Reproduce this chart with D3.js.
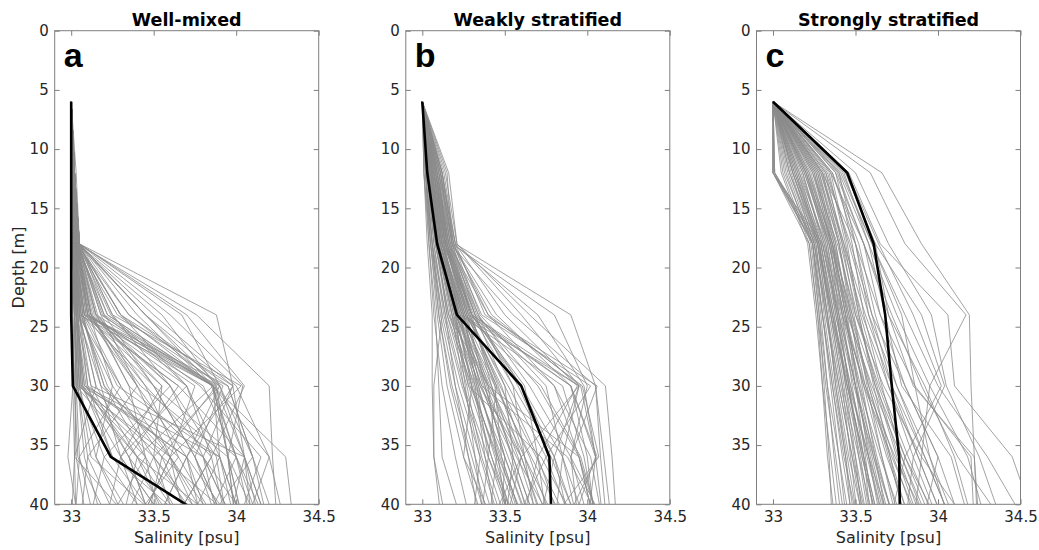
<!DOCTYPE html>
<html>
<head>
<meta charset="utf-8">
<script src="https://cdn.jsdelivr.net/npm/d3@7"></script>
<style>
  body { margin: 0; background: #fff; }
  text { font-family: "DejaVu Sans", sans-serif; }
</style>
</head>
<body>
<svg id="chart" width="1039" height="550"></svg>
<script>
// Sampling depths (m) shared by every salinity profile
const depths = [6, 12, 18, 24, 30, 36, 42];

const panelTitles = ["Well-mixed", "Weakly stratified", "Strongly stratified"];
const panelLetters = ["a", "b", "c"];
const salinityTicks = [33, 33.5, 34, 34.5];
const depthTicks = [0, 5, 10, 15, 20, 25, 30, 35, 40];

// Mean profiles (psu) at the sampling depths
const meanWellMixed = [33.00, 33.00, 33.00, 33.00, 33.01, 33.24, 33.92];
const meanWeak      = [33.00, 33.03, 33.09, 33.21, 33.60, 33.77, 33.785];
const meanStrong    = [33.00, 33.45, 33.61, 33.68, 33.72, 33.765, 33.77];

// Individual profiles, well-mixed regime
const profilesWellMixed = [
  [33.00,33.02,33.05,33.88,33.98,34.05,34.10],
  [33.00,33.02,33.04,33.76,34.20,34.22,34.25],
  [33.00,33.03,33.05,33.67,33.90,34.10,34.20],
  [33.00,33.02,33.04,33.55,33.88,33.95,34.05],
  [33.00,33.01,33.04,33.45,33.86,33.90,34.00],
  [33.00,33.02,33.05,33.40,33.85,34.00,34.15],
  [33.00,33.02,33.03,33.35,33.90,33.70,33.80],
  [33.00,33.01,33.04,33.30,33.70,33.85,33.95],
  [33.00,33.02,33.05,33.25,33.60,33.80,34.00],
  [33.00,33.02,33.05,33.22,33.87,34.05,34.20],
  [33.00,33.01,33.04,33.20,33.50,33.75,33.95],
  [33.00,33.02,33.04,33.18,33.40,33.60,33.85],
  [33.00,33.01,33.03,33.15,33.86,33.95,34.05],
  [33.00,33.02,33.05,33.60,34.04,33.95,34.00],
  [33.00,33.02,33.04,33.50,34.00,34.20,34.30],
  [33.00,33.01,33.05,33.45,33.98,33.80,33.90],
  [33.00,33.02,33.04,33.30,33.98,33.70,33.50],
  [33.00,33.01,33.03,33.10,33.86,34.30,34.35],
  [33.00,33.02,33.05,33.70,34.05,33.85,33.60],
  [33.00,33.01,33.03,33.05,33.86,33.95,34.00],
  [33.00,33.01,33.02,33.08,33.90,34.05,34.15],
  [33.00,33.02,33.04,33.10,33.70,33.90,34.05],
  [33.00,33.01,33.03,33.12,33.60,33.88,33.95],
  [33.00,33.00,33.02,33.06,33.50,33.75,33.90],
  [33.00,33.01,33.03,33.09,33.40,33.70,33.85],
  [33.00,33.01,33.02,33.04,33.30,33.60,33.80],
  [33.00,33.02,33.03,33.11,33.25,33.55,33.75],
  [33.00,33.01,33.02,33.07,33.20,33.45,33.70],
  [33.00,33.01,33.03,33.05,33.15,33.40,33.60],
  [33.00,33.00,33.02,33.03,33.12,33.35,33.50],
  [33.00,33.01,33.03,33.13,33.35,33.80,34.00],
  [33.00,33.02,33.04,33.15,33.45,33.65,33.90],
  [33.00,33.01,33.02,33.08,33.55,33.50,33.65],
  [33.00,33.01,33.03,33.10,33.80,34.00,34.10],
  [33.00,33.01,33.02,33.06,33.65,34.05,34.20],
  [33.00,33.02,33.04,33.12,33.75,33.60,33.70],
  [33.00,33.01,33.03,33.09,33.95,34.10,34.25],
  [33.00,33.00,33.02,33.04,33.18,33.30,33.45],
  [33.00,33.01,33.02,33.06,33.22,33.50,33.80],
  [33.00,33.01,33.03,33.07,33.28,33.90,34.05],
  [33.00,33.01,33.02,33.05,33.10,33.25,33.55],
  [33.00,33.00,33.01,33.02,33.04,33.60,33.90],
  [33.00,33.01,33.02,33.03,33.05,33.50,33.85],
  [33.00,33.00,33.01,33.02,33.03,33.40,33.70],
  [33.00,33.01,33.02,33.04,33.06,33.30,33.60],
  [33.00,33.00,33.01,33.02,33.03,33.20,33.50],
  [33.00,33.01,33.02,33.03,33.05,33.15,33.40],
  [33.00,33.00,33.01,33.02,33.04,33.10,33.30],
  [33.00,33.01,33.02,33.03,33.08,33.70,34.00],
  [33.00,33.00,33.01,33.03,33.06,33.80,34.10],
  [33.00,33.01,33.02,33.04,33.07,33.25,33.75],
  [33.00,33.00,33.01,33.02,33.04,33.08,33.20],
  [33.00,33.01,33.02,33.03,33.05,33.45,33.55],
  [33.00,33.00,33.01,33.02,33.03,33.05,33.15],
  [33.00,33.01,33.02,33.03,33.09,33.35,33.65],
  [33.00,33.00,33.01,33.02,33.01,32.98,33.05],
  [33.00,33.00,33.00,33.01,33.02,33.03,33.10],
  [33.00,33.00,33.00,33.00,33.01,33.02,33.03],
  [33.00,33.00,33.01,33.01,33.02,33.04,33.25],
  [33.00,33.02,33.04,33.20,33.86,33.40,33.30],
  [33.00,33.01,33.03,33.22,33.88,33.55,33.45],
  [33.00,33.02,33.05,33.25,34.03,33.60,33.40],
  [33.00,33.01,33.04,33.18,33.86,34.00,33.80],
  [33.00,33.02,33.03,33.28,33.92,33.75,33.95],
  [33.00,33.01,33.04,33.15,33.60,33.20,33.10],
  [33.00,33.02,33.05,33.30,33.86,34.20,34.05],
  [33.00,33.01,33.03,33.12,33.40,33.10,33.05],
  [33.00,33.02,33.04,33.24,33.70,33.30,33.60],
  [33.00,33.01,33.02,33.08,33.30,33.05,33.02],
  [33.00,33.00,33.02,33.05,33.15,33.02,33.00],
  [33.00,33.01,33.03,33.06,33.20,33.60,33.40],
  [33.00,33.01,33.02,33.04,33.10,33.70,33.50],
  [33.00,33.00,33.01,33.03,33.08,33.90,33.70],
  [33.00,33.01,33.02,33.05,33.12,34.05,33.95],
  [33.00,33.02,33.04,33.16,33.50,34.00,34.20],
  [33.00,33.01,33.03,33.10,33.45,33.85,33.60],
  [33.00,33.02,33.05,33.35,33.95,34.10,33.80],
  [33.00,33.01,33.03,33.14,33.55,33.30,33.20],
  [33.00,33.00,33.02,33.05,33.25,33.15,33.35],
  [33.00,33.01,33.02,33.04,33.06,33.55,34.05],
  [33.00,33.00,33.01,33.02,33.05,33.12,33.60],
  [33.00,33.01,33.02,33.03,33.07,33.40,33.95],
  [33.00,33.00,33.01,33.02,33.03,33.02,33.40],
  [33.00,33.02,33.05,33.45,33.90,33.50,33.30],
  [33.00,33.01,33.04,33.12,33.35,33.45,33.20],
  [33.00,33.02,33.03,33.08,33.65,33.35,33.50],
  [33.00,33.01,33.03,33.11,33.42,33.95,34.15],
  [33.00,33.02,33.04,33.19,33.78,34.15,34.00],
  [33.00,33.01,33.02,33.07,33.18,33.65,33.35]
];

// Individual profiles, weakly stratified regime
const profilesWeak = [
  [33.00,33.12,33.20,33.90,34.05,34.10,34.15],
  [33.00,33.15,33.18,33.80,34.00,33.90,33.95],
  [33.00,33.10,33.19,33.70,33.98,34.05,34.10],
  [33.00,33.14,33.21,33.60,33.95,33.85,33.80],
  [33.00,33.11,33.17,33.55,34.05,34.08,34.12],
  [33.00,33.13,33.20,33.50,33.94,33.70,33.60],
  [33.00,33.12,33.18,33.45,33.90,34.00,34.05],
  [33.00,33.09,33.16,33.40,33.80,33.95,34.05],
  [33.00,33.12,33.19,33.35,33.75,33.85,33.95],
  [33.00,33.10,33.15,33.30,33.60,33.80,33.90],
  [33.00,33.16,33.21,33.65,34.11,34.15,34.18],
  [33.00,33.11,33.18,33.42,33.96,34.05,33.90],
  [33.00,33.05,33.10,33.20,33.40,33.60,33.75],
  [33.00,33.06,33.12,33.25,33.45,33.65,33.80],
  [33.00,33.04,33.09,33.18,33.35,33.55,33.70],
  [33.00,33.07,33.13,33.28,33.50,33.70,33.85],
  [33.00,33.03,33.08,33.15,33.30,33.45,33.60],
  [33.00,33.08,33.14,33.30,33.55,33.80,33.95],
  [33.00,33.05,33.11,33.22,33.38,33.50,33.65],
  [33.00,33.09,33.15,33.32,33.60,33.85,34.00],
  [33.00,33.06,33.12,33.24,33.42,33.58,33.72],
  [33.00,33.04,33.10,33.19,33.33,33.48,33.62],
  [33.00,33.07,33.14,33.27,33.48,33.62,33.78],
  [33.00,33.03,33.07,33.14,33.25,33.40,33.55],
  [33.00,33.05,33.10,33.21,33.36,33.52,33.68],
  [33.00,33.08,33.16,33.34,33.65,33.90,34.02],
  [33.00,33.06,33.11,33.23,33.44,33.66,33.88],
  [33.00,33.04,33.09,33.17,33.28,33.42,33.58],
  [33.00,33.10,33.17,33.33,33.70,33.95,34.08],
  [33.00,33.05,33.12,33.26,33.52,33.75,33.92],
  [33.00,33.03,33.08,33.16,33.32,33.50,33.66],
  [33.00,33.07,33.13,33.29,33.46,33.60,33.74],
  [33.00,33.02,33.06,33.12,33.22,33.35,33.48],
  [33.00,33.06,33.12,33.25,33.39,33.55,33.70],
  [33.00,33.04,33.10,33.20,33.31,33.44,33.56],
  [33.00,33.08,33.15,33.31,33.58,33.78,33.96],
  [33.00,33.05,33.11,33.22,33.41,33.62,33.83],
  [33.00,33.02,33.05,33.10,33.18,33.30,33.42],
  [33.00,33.09,33.16,33.30,33.62,33.70,33.76],
  [33.00,33.06,33.13,33.24,33.37,33.57,33.81],
  [33.00,33.03,33.07,33.13,33.24,33.38,33.52],
  [33.00,33.07,33.14,33.27,33.47,33.69,33.90],
  [33.00,33.04,33.09,33.18,33.29,33.46,33.64],
  [33.00,33.05,33.10,33.21,33.34,33.47,33.61],
  [33.00,33.11,33.18,33.32,33.80,34.02,34.10],
  [33.00,33.08,33.15,33.28,33.90,34.05,34.00],
  [33.00,33.06,33.12,33.23,33.85,33.98,34.06],
  [33.00,33.09,33.17,33.30,33.95,33.80,33.70],
  [33.00,33.07,33.14,33.26,33.72,33.96,34.08],
  [33.00,33.01,33.03,33.06,33.06,33.07,33.15],
  [33.00,33.02,33.04,33.08,33.10,33.12,33.25],
  [33.00,33.01,33.04,33.07,33.12,33.20,33.30],
  [33.00,33.02,33.05,33.09,33.15,33.25,33.38],
  [33.00,33.03,33.06,33.11,33.20,33.32,33.45],
  [33.00,33.02,33.06,33.10,33.17,33.28,33.40],
  [33.00,33.01,33.05,33.12,33.07,33.07,33.12],
  [33.00,33.04,33.09,33.20,33.30,33.25,33.45],
  [33.00,33.06,33.12,33.25,33.35,33.60,33.50],
  [33.00,33.08,33.15,33.28,33.45,33.40,33.35],
  [33.00,33.05,33.11,33.24,33.95,33.60,33.40],
  [33.00,33.09,33.17,33.36,34.02,33.75,33.55],
  [33.00,33.07,33.14,33.30,33.90,34.06,33.85],
  [33.00,33.03,33.08,33.16,33.40,33.95,34.05],
  [33.00,33.05,33.10,33.19,33.28,33.72,33.95],
  [33.00,33.06,33.13,33.22,33.36,33.88,34.10],
  [33.00,33.04,33.10,33.18,33.25,33.35,33.30],
  [33.00,33.07,33.14,33.26,33.40,33.45,33.40],
  [33.00,33.08,33.16,33.32,33.50,33.55,33.50],
  [33.00,33.05,33.12,33.23,33.32,33.38,33.45],
  [33.00,33.06,33.11,33.21,33.30,33.42,33.55],
  [33.00,33.03,33.09,33.15,33.27,33.36,33.50],
  [33.00,33.09,33.16,33.29,33.44,33.48,33.62],
  [33.00,33.10,33.18,33.34,33.55,33.62,33.70],
  [33.00,33.06,33.14,33.25,33.33,33.40,33.58],
  [33.00,33.04,33.11,33.20,33.26,33.32,33.38],
  [33.00,33.07,33.15,33.27,33.38,33.50,33.48],
  [33.00,33.12,33.19,33.40,33.97,34.07,33.75],
  [33.00,33.11,33.20,33.38,34.06,33.90,34.12],
  [33.00,33.02,33.06,33.14,33.20,33.28,33.35],
  [33.00,33.05,33.13,33.22,33.34,33.46,33.52],
  [33.00,33.08,33.14,33.30,33.42,33.54,33.66]
];

// Individual profiles, strongly stratified regime
const profilesStrong = [
  [33.00,33.00,33.25,33.30,33.35,33.40,33.45],
  [33.00,33.00,33.22,33.27,33.30,33.33,33.38],
  [33.00,33.01,33.28,33.35,33.45,33.55,33.65],
  [33.00,33.00,33.30,33.40,33.50,33.62,33.75],
  [33.00,33.01,33.26,33.32,33.40,33.48,33.58],
  [33.00,33.00,33.24,33.29,33.33,33.37,33.42],
  [33.00,33.10,33.25,33.33,33.40,33.48,33.55],
  [33.00,33.15,33.28,33.36,33.45,33.55,33.65],
  [33.00,33.20,33.32,33.40,33.50,33.60,33.70],
  [33.00,33.25,33.35,33.44,33.55,33.66,33.78],
  [33.00,33.30,33.40,33.48,33.58,33.70,33.82],
  [33.00,33.12,33.26,33.31,33.37,33.44,33.50],
  [33.00,33.18,33.30,33.38,33.47,33.57,33.68],
  [33.00,33.22,33.34,33.43,33.53,33.63,33.74],
  [33.00,33.08,33.23,33.28,33.33,33.40,33.47],
  [33.00,33.28,33.38,33.46,33.56,33.69,33.85],
  [33.00,33.35,33.45,33.52,33.62,33.75,33.90],
  [33.00,33.14,33.27,33.35,33.42,33.52,33.62],
  [33.00,33.24,33.36,33.45,33.60,33.78,33.96],
  [33.00,33.05,33.21,33.26,33.30,33.35,33.40],
  [33.00,33.17,33.31,33.42,33.52,33.65,33.80],
  [33.00,33.27,33.37,33.47,33.59,33.73,33.88],
  [33.00,33.11,33.25,33.32,33.39,33.46,33.56],
  [33.00,33.21,33.33,33.39,33.46,33.54,33.64],
  [33.00,33.32,33.42,33.50,33.64,33.80,33.98],
  [33.00,33.16,33.29,33.37,33.44,33.53,33.60],
  [33.00,33.26,33.36,33.44,33.52,33.61,33.72],
  [33.00,33.38,33.48,33.55,33.66,33.78,33.94],
  [33.00,33.13,33.28,33.34,33.41,33.50,33.58],
  [33.00,33.19,33.33,33.41,33.50,33.59,33.69],
  [33.00,33.29,33.41,33.51,33.63,33.76,33.92],
  [33.00,33.09,33.24,33.30,33.36,33.42,33.49],
  [33.00,33.23,33.35,33.46,33.58,33.71,33.84],
  [33.00,33.34,33.44,33.53,33.65,33.82,34.00],
  [33.00,33.06,33.22,33.27,33.32,33.38,33.44],
  [33.00,33.40,33.50,33.58,33.70,33.85,34.02],
  [33.00,33.20,33.34,33.42,33.56,33.74,33.95],
  [33.00,33.15,33.30,33.39,33.49,33.61,33.75],
  [33.00,33.31,33.43,33.52,33.61,33.71,33.81],
  [33.00,33.12,33.27,33.36,33.46,33.58,33.72],
  [33.00,33.66,33.90,34.19,34.20,34.22,34.25],
  [33.00,33.59,33.80,34.17,33.95,33.90,33.85],
  [33.00,33.50,33.70,33.96,34.05,34.25,34.40],
  [33.00,33.46,33.65,34.06,34.10,34.45,34.60],
  [33.00,33.42,33.60,33.80,34.00,34.30,34.55],
  [33.00,33.44,33.62,33.70,33.85,34.22,34.24],
  [33.00,33.40,33.58,33.75,33.95,34.18,34.30],
  [33.00,33.38,33.55,33.65,33.80,34.00,34.15],
  [33.00,33.36,33.52,33.62,33.75,33.92,34.10],
  [33.00,33.45,33.64,33.85,34.02,33.80,33.70],
  [33.00,33.43,33.58,33.68,33.78,34.08,34.20],
  [33.00,33.35,33.55,33.72,33.90,34.12,34.42],
  [33.00,33.30,33.50,33.60,33.72,33.88,34.05],
  [33.00,33.41,33.60,33.78,33.86,33.95,34.08],
  [33.00,33.10,33.27,33.33,33.38,33.44,33.48],
  [33.00,33.18,33.31,33.39,33.44,33.50,33.55],
  [33.00,33.22,33.36,33.42,33.48,33.55,33.60],
  [33.00,33.26,33.38,33.45,33.51,33.58,33.66],
  [33.00,33.14,33.29,33.36,33.43,33.49,33.56],
  [33.00,33.28,33.40,33.49,33.57,33.66,33.76],
  [33.00,33.20,33.35,33.40,33.46,33.52,33.59],
  [33.00,33.07,33.24,33.30,33.36,33.43,33.52],
  [33.00,33.30,33.42,33.54,33.70,33.88,34.05],
  [33.00,33.33,33.46,33.58,33.75,33.95,34.12],
  [33.00,33.36,33.50,33.65,33.86,34.20,34.22],
  [33.00,33.24,33.39,33.50,33.67,33.90,34.20],
  [33.00,33.16,33.32,33.38,33.47,33.58,33.68],
  [33.00,33.12,33.28,33.35,33.42,33.47,33.52],
  [33.00,33.27,33.40,33.47,33.54,33.62,33.70],
  [33.00,33.19,33.34,33.43,33.55,33.72,33.90],
  [33.00,33.39,33.55,33.70,33.92,34.10,34.22],
  [33.00,33.32,33.47,33.60,33.80,34.00,33.90],
  [33.00,33.44,33.62,33.90,34.04,33.85,33.80],
  [33.00,33.25,33.37,33.44,33.50,33.56,33.62],
  [33.00,33.01,33.24,33.28,33.31,33.34,33.36],
  [33.00,33.00,33.27,33.33,33.38,33.45,33.52],
  [33.00,33.21,33.36,33.48,33.62,33.80,34.02],
  [33.00,33.13,33.29,33.37,33.45,33.54,33.64],
  [33.00,33.29,33.43,33.56,33.72,33.92,34.10]
];

const panels = [
  { profiles: profilesWellMixed, mean: meanWellMixed },
  { profiles: profilesWeak, mean: meanWeak },
  { profiles: profilesStrong, mean: meanStrong }
];

// Layout
const panelLefts = [54.7, 405.8, 756.5];
const panelWidth = 264;
const plotTop = 30.7, plotBottom = 504.3;
const frameColor = "#7f7f7f";
const labelColor = "#262626";

const svg = d3.select("#chart");

panels.forEach((p, i) => {
  const left = panelLefts[i];
  const x = d3.scaleLinear().domain([32.9, 34.5]).range([left, left + panelWidth]);
  const y = d3.scaleLinear().domain([0, 40]).range([plotTop, plotBottom]);

  const g = svg.append("g");

  const clipId = "clip-" + i;
  svg.append("clipPath").attr("id", clipId)
    .append("rect")
    .attr("x", left).attr("y", plotTop)
    .attr("width", panelWidth).attr("height", plotBottom - plotTop);

  const line = d3.line()
    .x((s) => x(s))
    .y((s, k) => y(depths[k]));

  const lines = g.append("g").attr("clip-path", `url(#${clipId})`);

  lines.selectAll("path.profile")
    .data(p.profiles)
    .join("path")
    .attr("class", "profile")
    .attr("d", line)
    .attr("fill", "none")
    .attr("stroke", "#8c8c8c")
    .attr("stroke-width", 0.8)
    .attr("stroke-linejoin", "round");

  lines.append("path")
    .attr("d", line(p.mean))
    .attr("fill", "none")
    .attr("stroke", "#000")
    .attr("stroke-width", 2.6)
    .attr("stroke-linejoin", "round");

  // Axes with inward ticks on all four sides
  const leftAxis = g.append("g").attr("transform", `translate(${left},0)`)
    .call(d3.axisLeft(y).tickValues(depthTicks).tickSize(-5).tickPadding(6).tickFormat(d3.format("d")));
  const rightAxis = g.append("g").attr("transform", `translate(${left + panelWidth},0)`)
    .call(d3.axisRight(y).tickValues(depthTicks).tickSize(-5).tickFormat(""));
  const bottomAxis = g.append("g").attr("transform", `translate(0,${plotBottom})`)
    .call(d3.axisBottom(x).tickValues(salinityTicks).tickSize(-5).tickPadding(7).tickFormat(d3.format("")));
  const topAxis = g.append("g").attr("transform", `translate(0,${plotTop})`)
    .call(d3.axisTop(x).tickValues(salinityTicks).tickSize(-5).tickFormat(""));

  [leftAxis, rightAxis, bottomAxis, topAxis].forEach((a) => {
    a.select(".domain").remove();
    a.selectAll(".tick line").attr("stroke", frameColor).attr("stroke-width", 1);
    a.selectAll(".tick text")
      .attr("fill", labelColor)
      .style("font-family", "'DejaVu Sans', sans-serif")
      .style("font-size", "15px");
  });

  g.append("rect")
    .attr("x", left).attr("y", plotTop)
    .attr("width", panelWidth).attr("height", plotBottom - plotTop)
    .attr("fill", "none")
    .attr("stroke", frameColor)
    .attr("stroke-width", 1);

  // Title
  g.append("text")
    .attr("x", left + panelWidth / 2)
    .attr("y", 26)
    .attr("text-anchor", "middle")
    .style("font-family", "'DejaVu Sans', sans-serif")
    .style("font-weight", "bold")
    .style("font-size", "17.5px")
    .attr("fill", "#000")
    .text(panelTitles[i]);

  // Panel letter
  g.append("text")
    .attr("x", left + 9)
    .attr("y", 66.5)
    .style("font-family", "'Liberation Sans', Arial, sans-serif")
    .style("font-weight", "bold")
    .style("font-size", "34px")
    .attr("fill", "#000")
    .text(panelLetters[i]);

  // X axis label
  g.append("text")
    .attr("x", left + panelWidth / 2)
    .attr("y", 543)
    .attr("text-anchor", "middle")
    .style("font-family", "'DejaVu Sans', sans-serif")
    .style("font-size", "16px")
    .attr("fill", labelColor)
    .text("Salinity [psu]");
});

// Y axis label (first panel only)
svg.append("text")
  .attr("transform", `translate(24,${(plotTop + plotBottom) / 2}) rotate(-90)`)
  .attr("text-anchor", "middle")
  .style("font-family", "'DejaVu Sans', sans-serif")
  .style("font-size", "16px")
  .attr("fill", labelColor)
  .text("Depth [m]");
</script>
</body>
</html>
